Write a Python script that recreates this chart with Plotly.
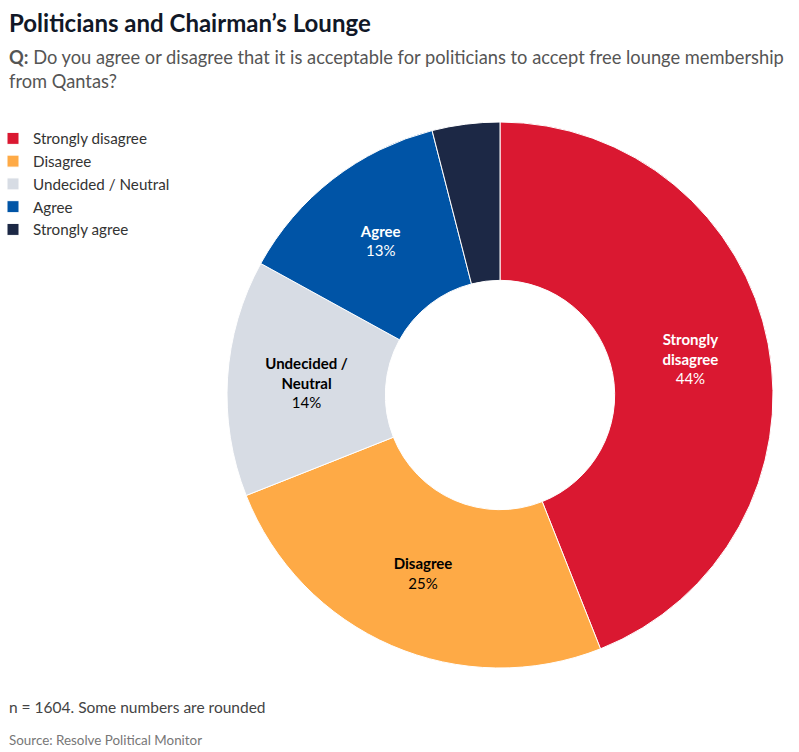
import plotly.graph_objects as go

categories = ["Strongly disagree", "Disagree", "Undecided / Neutral", "Agree", "Strongly agree"]
values = [44, 25, 14, 13, 4]
slice_labels = ["Strongly<br>disagree", "Disagree", "Undecided /<br>Neutral", "Agree", ""]
colors = ["#DA1831", "#FEAA46", "#D7DCE4", "#0054A6", "#1C2845"]
text_colors = ["white", "black", "black", "white", "white"]

FONT = "Lato"

texts = []
for lab, v in zip(slice_labels, values):
    texts.append(f"<b>{lab}</b><br>{v}%" if lab else "")

W, H = 799, 752
cx, cy, r = 500, 395, 273

fig = go.Figure(go.Pie(
    labels=categories,
    values=values,
    text=texts,
    textinfo="text",
    textposition="inside",
    insidetextorientation="horizontal",
    hole=0.42,
    sort=False,
    direction="clockwise",
    rotation=0,
    marker=dict(colors=colors, line=dict(color="white", width=1)),
    insidetextfont=dict(family=FONT, size=15, color=text_colors),
    domain=dict(x=[(cx - r) / W, (cx + r) / W], y=[1 - (cy + r) / H, 1 - (cy - r) / H]),
    hoverinfo="label+percent",
))

fig.update_layout(
    width=W, height=H,
    margin=dict(l=0, r=0, t=0, b=0, autoexpand=False),
    paper_bgcolor="white",
    font=dict(family=FONT),
    showlegend=True,
    legend=dict(
        x=-7 / W, y=1 - 122 / H, xanchor="left", yanchor="top",
        font=dict(family=FONT, size=15.2, color="#333333"),
        itemwidth=30, tracegroupgap=0,
    ),
    annotations=[
        dict(text="<b>Politicians and Chairman’s Lounge</b>", x=7 / W, y=1 - 6 / H,
             xref="paper", yref="paper", xanchor="left", yanchor="top", showarrow=False,
             font=dict(family=FONT, size=24, color="#111827")),
        dict(text="<b>Q:</b> Do you agree or disagree that it is acceptable for politicians to accept free lounge membership<br>from Qantas?",
             x=7 / W, y=1 - 44 / H, xref="paper", yref="paper", xanchor="left", yanchor="top",
             showarrow=False, align="left",
             font=dict(family=FONT, size=18.3, color="#555555")),
        dict(text="n = 1604. Some numbers are rounded", x=7 / W, y=1 - 696 / H,
             xref="paper", yref="paper", xanchor="left", yanchor="top", showarrow=False,
             font=dict(family=FONT, size=15.5, color="#444444")),
        dict(text="Source: Resolve Political Monitor", x=7 / W, y=1 - 730 / H,
             xref="paper", yref="paper", xanchor="left", yanchor="top", showarrow=False,
             font=dict(family=FONT, size=13.4, color="#777777")),
    ],
)

fig.write_html("out.html", config={"displayModeBar": False},
               post_script="document.body.style.margin='0px';")
